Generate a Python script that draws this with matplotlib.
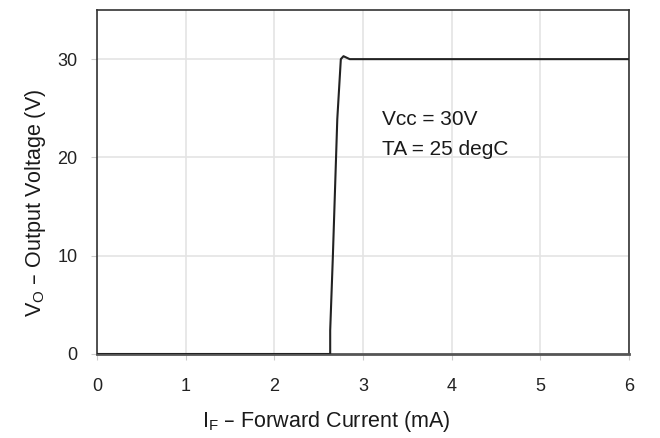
import numpy as np
import matplotlib.pyplot as plt

plt.rcParams['font.family'] = ['Liberation Sans', 'DejaVu Sans']

# forward current (mA) vs output voltage (V)
i_f = [0.0, 2.63, 2.63, 2.66, 2.71, 2.75, 2.78, 2.85, 6.0]
v_o = [0.0, 0.0, 2.4, 9.9, 23.9, 30.0, 30.3, 30.0, 30.0]

x_ticks = [0, 1, 2, 3, 4, 5, 6]
y_ticks = [0, 10, 20, 30]

W, H = 660, 438
fig = plt.figure(figsize=(6.6, 4.38), dpi=100)
ax = fig.add_axes([97 / W, 1 - 354 / H, 532 / W, 344 / H])

ax.plot(i_f, v_o, color='#222222', linewidth=1.5, zorder=3)

ax.set_xlim(0, 6)
ax.set_ylim(0, 35)
ax.set_xticks(x_ticks)
ax.set_yticks(y_ticks)
ax.grid(True, color='#e4e4e4', linewidth=1.2)
ax.set_axisbelow(True)

for s in ax.spines.values():
    s.set_color('#333333')
    s.set_linewidth(1.2)
ax.spines['bottom'].set_linewidth(2.0)
ax.spines['bottom'].set_color('#555555')

ax.tick_params(axis='x', direction='out', length=4, color='#cccccc',
               labelsize=13, pad=13, labelcolor='#222222')
ax.tick_params(axis='y', direction='out', length=4, color='#cccccc',
               labelsize=13, pad=10, labelcolor='#222222')

ax.text(3.21, 23.9, 'Vcc = 30V', fontsize=15, va='center', ha='left', color='#1a1a1a')
ax.text(3.21, 20.8, 'TA = 25 degC', fontsize=15, va='center', ha='left', color='#1a1a1a')

fig.text(326 / W, 1 - 422 / H, r'$\mathregular{I_F}$ – Forward Current (mA)',
         fontsize=15.5, ha='center', va='center', color='#1a1a1a')
fig.text(36 / W, 1 - 203 / H, r'$\mathregular{V_O}$ – Output Voltage (V)',
         fontsize=15.5, ha='center', va='center', rotation=90, color='#1a1a1a')

fig.savefig('out.png', dpi=100)
